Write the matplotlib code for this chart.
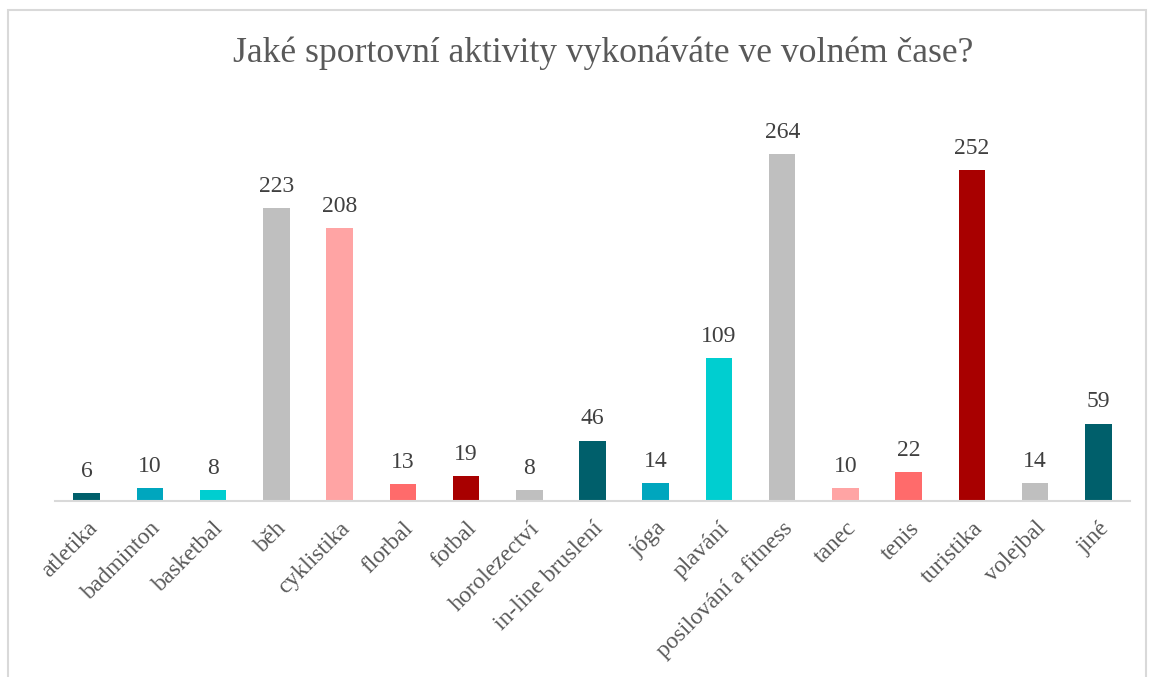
import matplotlib
matplotlib.use("Agg")
import matplotlib.pyplot as plt
from matplotlib.patches import Rectangle

categories = ["atletika", "badminton", "basketbal", "běh", "cyklistika", "florbal",
              "fotbal", "horolezectví", "in-line bruslení", "jóga", "plavání",
              "posilování a fitness", "tanec", "tenis", "turistika", "volejbal", "jiné"]
counts = [6, 10, 8, 223, 208, 13, 19, 8, 46, 14, 109, 264, 10, 22, 252, 14, 59]
palette = ["#005F6B", "#00A6BE", "#00CED0", "#BFBFBF", "#FFA4A4", "#FF6B6B", "#A80000", "#BFBFBF"]
title = "Jaké sportovní aktivity vykonáváte ve volném čase?"

plt.rcParams["font.family"] = ["Liberation Serif", "DejaVu Serif"]
text_color = "#595959"

W, H = 1149, 677
fig = plt.figure(figsize=(W / 100, H / 100), dpi=100)

# outer frame like the Excel chart area
fig.patches.append(Rectangle((8 / W, -0.01), (1146 - 8) / W, 1.01 - 10 / H,
                             transform=fig.transFigure, fill=False,
                             edgecolor="#D9D9D9", linewidth=1.5))

left, right = 55 / W, 1130 / W
bottom, top = 1 - 501 / H, 1 - 107 / H
ax = fig.add_axes([left, bottom, right - left, top - bottom])

colors = [palette[i % len(palette)] for i in range(len(categories))]
x = list(range(len(categories)))
ax.bar(x, counts, width=0.42, color=colors, zorder=2)

for xi, v in zip(x, counts):
    ax.annotate(str(v), (xi, v), xytext=(0, 8), textcoords="offset points",
                ha="center", va="bottom", fontsize=17, color="#404040")

ax.set_xlim(-0.5, len(categories) - 0.5)
ax.set_ylim(0, 300)
ax.set_yticks([])
ax.set_xticks(x)
ax.set_xticklabels(categories, rotation=45, ha="right", rotation_mode="anchor",
                   fontsize=17, color=text_color)
ax.tick_params(axis="x", length=0, pad=12)
for s in ["top", "right", "left"]:
    ax.spines[s].set_visible(False)
ax.spines["bottom"].set_color("#D9D9D9")
ax.spines["bottom"].set_linewidth(1.5)

fig.text(603 / W, 1 - 53 / H, title, ha="center", va="center", fontsize=25.7, color=text_color)

fig.savefig("out.png", dpi=100)
